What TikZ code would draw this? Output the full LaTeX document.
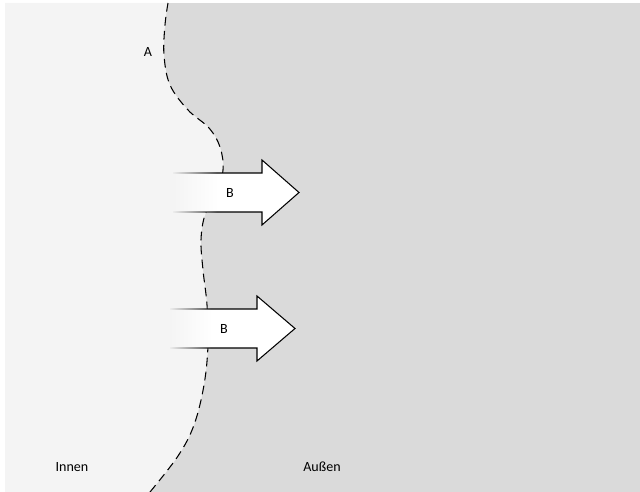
\documentclass[tikz,border=0pt]{standalone}
\usepackage{fontspec}
\setmainfont{Carlito}
\usetikzlibrary{fadings}
\definecolor{innen}{HTML}{F4F4F4}
\definecolor{aussen}{HTML}{DADADA}
\tikzfading[name=fadeout, left color=transparent!0, right color=transparent!100]

\begin{document}
\begin{tikzpicture}[x=0.02cm, y=-0.02cm]
    \useasboundingbox (0,0) rectangle (640,492);
    \def\grenze{plot[smooth, tension=0.6] coordinates {(168,3) (165,25) (164,55) (170,85)
        (188,110) (209,128) (220,147) (223,170) (216,195) (205,215) (201,240)
        (203,270) (207,305) (208,345) (204,385) (194,425) (178,456) (150,492)}}
    \fill[aussen] (5,3) rectangle (640,492);
    \fill[innen] \grenze -- (5,492) -- (5,3) -- cycle;
    \draw[line width=0.6pt, dash pattern=on 5pt off 3pt] \grenze;
    \foreach \ym/\xl/\xb/\xt/\xf/\xlab [count=\n] in {%
        192.5/173/262/299/217/230,
        328.5/170/257/295/211/224%
    }{
        \filldraw[fill=white, line width=0.6pt]
            (\xl,\ym-19.5) -- (\xb,\ym-19.5) -- (\xb,\ym-32.5) -- (\xt,\ym)
            -- (\xb,\ym+32.5) -- (\xb,\ym+19.5) -- (\xl,\ym+19.5);
        \fill[innen, path fading=fadeout] (\xl-2,\ym-21) rectangle (\xf,\ym+21);
        \node[font=\fontsize{8}{9}\selectfont] (b\n) at (\xlab,\ym) {B};
    }
    \path[nodes={font=\fontsize{8}{9}\selectfont}]
        (148,52) node (a) {A}
        (72,467) node (innen) {Innen}
        (322,467) node (aussen) {Außen};
\end{tikzpicture}
\end{document}
